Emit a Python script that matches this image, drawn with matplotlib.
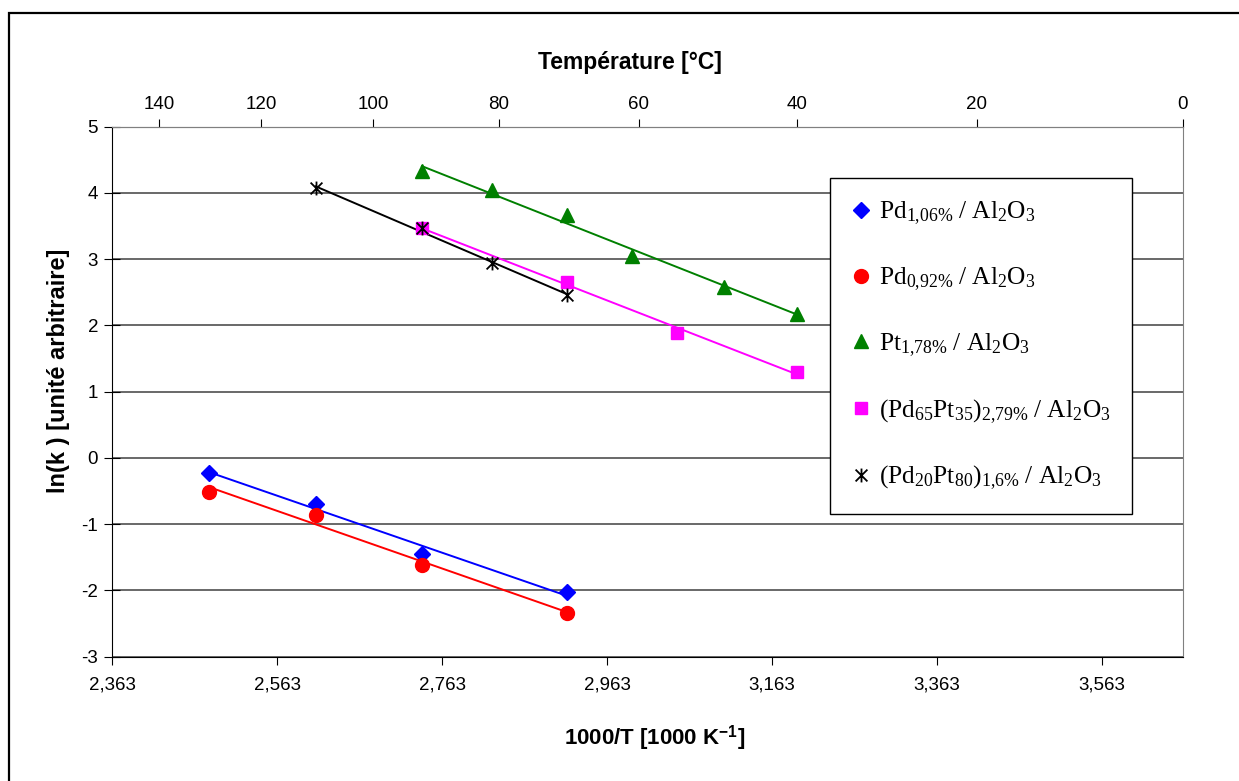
import numpy as np
import matplotlib
matplotlib.use('Agg')
import matplotlib.pyplot as plt
from matplotlib.path import Path
from matplotlib.patches import Rectangle
from matplotlib.ticker import FuncFormatter

plt.rcParams['font.family'] = ['Liberation Sans', 'DejaVu Sans']
plt.rcParams['axes.unicode_minus'] = False
plt.rcParams['mathtext.fontset'] = 'custom'
plt.rcParams['mathtext.rm'] = 'Liberation Serif'
plt.rcParams['mathtext.it'] = 'Liberation Serif:italic'
plt.rcParams['mathtext.sf'] = 'Liberation Sans:bold'

# --- donnees : temperature [°C] et ln(k) ---
t_pd106 = [130, 110, 92, 70]
lnk_pd106 = [-0.22, -0.69, -1.45, -2.03]

t_pd092 = [130, 110, 92, 70]
lnk_pd092 = [-0.52, -0.86, -1.61, -2.34]

t_pt178 = [92, 81, 70, 61, 49, 40]
lnk_pt178 = [4.33, 4.04, 3.67, 3.05, 2.58, 2.18]

t_pd65pt35 = [92, 70, 55, 40]
lnk_pd65pt35 = [3.47, 2.65, 1.89, 1.30]

t_pd20pt80 = [110, 92, 81, 70]
lnk_pd20pt80 = [4.07, 3.47, 2.94, 2.46]

labels = [
    r'$\mathrm{Pd_{1{,}06\%}\ /\ Al_2O_3}$',
    r'$\mathrm{Pd_{0{,}92\%}\ /\ Al_2O_3}$',
    r'$\mathrm{Pt_{1{,}78\%}\ /\ Al_2O_3}$',
    r'$\mathrm{(Pd_{65}Pt_{35})_{2{,}79\%}\ /\ Al_2O_3}$',
    r'$\mathrm{(Pd_{20}Pt_{80})_{1{,}6\%}\ /\ Al_2O_3}$',
]

xticks = np.round(2.363 + 0.2 * np.arange(7), 3)
temp_ticks = [140, 120, 100, 80, 60, 40, 20, 0]

# marqueur "etoile" facon Excel (x + barre verticale)
star = Path([(0, -1), (0, 1), (-0.85, -0.85), (0.85, 0.85), (-0.85, 0.85), (0.85, -0.85)],
            [Path.MOVETO, Path.LINETO] * 3)

series = [
    (t_pd106, lnk_pd106, '#0000FF', 'D', 8),
    (t_pd092, lnk_pd092, '#FF0000', 'o', 10),
    (t_pt178, lnk_pt178, '#008000', '^', 10),
    (t_pd65pt35, lnk_pd65pt35, '#FF00FF', 's', 9),
    (t_pd20pt80, lnk_pd20pt80, '#000000', star, 10),
]

def to_inv(t):
    return 1000.0 / (np.asarray(t, dtype=float) + 273.15)

def to_celsius(x):
    return 1000.0 / np.asarray(x, dtype=float) - 273.15

W, H = 1239, 781
fig = plt.figure(figsize=(W / 100, H / 100), dpi=100)
ax = fig.add_axes([112 / W, 1 - 656.7 / H, (1183 - 112) / W, 530 / H])

for (t, lnk, col, mk, ms), lab in zip(series, labels):
    x = to_inv(t)
    y = np.array(lnk)
    # droite de tendance lineaire
    a, b = np.polyfit(x, y, 1)
    xs = np.array([x.min(), x.max()])
    ax.plot(xs, a * xs + b, color=col, lw=1.4, zorder=2)
    if mk is star:
        ax.plot(x, y, ls='none', marker=mk, ms=ms, mec=col, mfc='none', mew=1.3,
                label=lab, zorder=3)
    else:
        ax.plot(x, y, ls='none', marker=mk, ms=ms, mec=col, mfc=col, label=lab, zorder=3)

ax.set_xlim(2.363, 1000 / 273.15)
ax.set_ylim(-3, 5)
ax.set_xticks(xticks)
ax.xaxis.set_major_formatter(FuncFormatter(lambda v, p: f'{v:.3f}'.replace('.', ',')))
ax.set_yticks(range(-3, 6))
ax.tick_params(axis='x', direction='out', length=6, labelsize=13.5, pad=8)
ax.tick_params(axis='y', direction='inout', length=12, labelsize=13.5, pad=4)
ax.yaxis.grid(True, color='#404040', lw=1.1)
ax.set_axisbelow(True)

ax.spines['left'].set_color('black')
ax.spines['bottom'].set_color('black')
ax.spines['top'].set_color('#808080')
ax.spines['right'].set_color('#808080')

ax.set_xlabel(r'1000/T [1000 K$^{\mathsf{-1}}$]', fontsize=16, fontweight='bold', labelpad=22)
ax.xaxis.label.set_x(0.507)
ax.set_ylabel('ln(k ) [unité arbitraire]', fontsize=17, fontweight='bold', labelpad=8)
ax.yaxis.label.set_y(0.54)

secax = ax.secondary_xaxis('top', functions=(to_celsius, to_inv))
secax.set_xticks(temp_ticks)
secax.tick_params(direction='out', length=6, labelsize=13.5, pad=4)
secax.spines['top'].set_color('#808080')
secax.set_xlabel('Température [°C]', fontsize=16.5, fontweight='bold', labelpad=19)
secax.xaxis.label.set_x(0.484)

leg = ax.legend(loc='upper left', bbox_to_anchor=(0.670, 0.903),
                prop={'family': 'Liberation Serif', 'size': 18.3},
                frameon=True, fancybox=False, edgecolor='black', framealpha=1,
                labelspacing=1.5, handlelength=0.8, handletextpad=0.3,
                borderpad=0.85, borderaxespad=0)
leg.get_frame().set_linewidth(1.0)

# cadre autour de la figure (coupe a droite et en bas)
fig.patches.append(Rectangle((9 / W, -0.05), 1.1, 1 - 13 / H + 0.05, transform=fig.transFigure,
                             fill=False, edgecolor='black', lw=1.6, clip_on=False))

fig.savefig('out.png', dpi=100)
